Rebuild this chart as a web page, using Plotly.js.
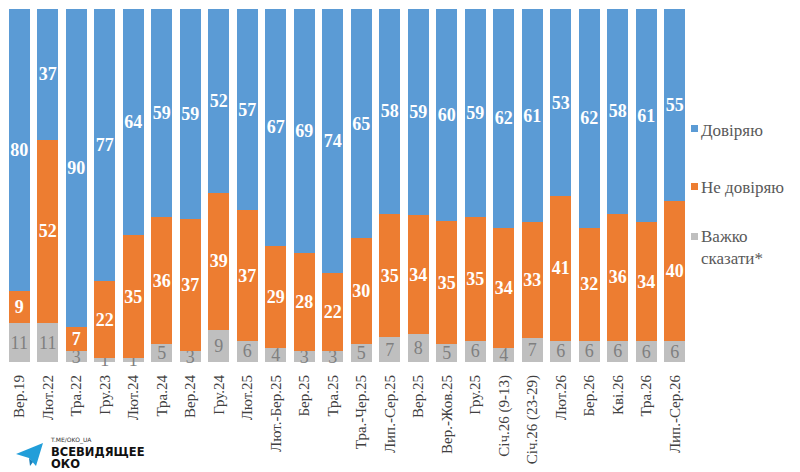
<!DOCTYPE html>
<html>
<head>
<meta charset="utf-8">
<script src="https://cdn.plot.ly/plotly-3.0.1.min.js"></script>
<style>html,body{margin:0;padding:0;background:#fff;}#chart{width:800px;height:472px;}</style>
</head>
<body>
<div id="chart"></div>
<script>
const categories = ["Вер.19","Лют.22","Тра.22","Гру.23","Лют.24","Тра.24","Вер.24","Гру.24","Лют.25","Лют.-Бер.25","Бер.25","Тра.25","Тра.-Чер.25","Лип.-Сер.25","Вер.25","Вер.-Жов.25","Гру.25","Січ.26 (9-13)","Січ.26 (23-29)","Лют.26","Бер.26","Кві.26","Тра.26","Лип.-Сер.26"];
const trust    = [80,37,90,77,64,59,59,52,57,67,69,74,65,58,59,60,59,62,61,53,62,58,61,55];
const distrust = [9,52,7,22,35,36,37,39,37,29,28,22,30,35,34,35,35,34,33,41,32,36,34,40];
const hard     = [11,11,3,1,1,5,3,9,6,4,3,3,5,7,8,5,6,4,7,6,6,6,6,6];
const seriesNames = ["Довіряю","Не довіряю","Важко<br>сказати*"];
const colors = {trust:"#5B9BD5", distrust:"#ED7D31", hard:"#BFBFBF"};

const serif = "Times New Roman";

function barTrace(name, vals, color, fontColor, bold){
  return {
    type:"bar", name:name, x:categories, y:vals, text:vals.map(String),
    texttemplate: bold ? "<b>%{text}</b>" : "%{text}",
    textposition:"inside", insidetextanchor:"middle", textangle:0,
    insidetextfont:{family:serif, size:18, color:fontColor},
    textfont:{family:serif, size:18, color:fontColor},
    marker:{color:color, line:{width:0}}, cliponaxis:false, hoverinfo:"skip", showlegend:false
  };
}

const data = [
  barTrace(seriesNames[2], hard, colors.hard, "#7F7F7F", false),
  barTrace(seriesNames[1], distrust, colors.distrust, "#FFFFFF", true),
  barTrace(seriesNames[0], trust, colors.trust, "#FFFFFF", true)
];

const plotTop = 9, plotBottom = 362, plotH = plotBottom - plotTop;
function py(pix){ return (plotBottom - pix) / plotH; }

const legendRows = [
  {text:seriesNames[0], color:colors.trust, yText:130, yMark:[125,132]},
  {text:seriesNames[1], color:colors.distrust, yText:187, yMark:[183,190]},
  {text:seriesNames[2], color:colors.hard, yText:247.5, yMark:[233,240]}
];

const annotations = legendRows.map(r => ({
  xref:"paper", yref:"paper", x:1, y:py(r.yText), xanchor:"left", yanchor:"middle",
  xshift:10, text:r.text, showarrow:false, align:"left",
  font:{family:serif, size:17, color:"#595959"}
}));
annotations.push(
  {xref:"paper", yref:"paper", x:(48-5)/684, y:py(440), xanchor:"left", yanchor:"middle", text:"T.ME/OKO_UA", showarrow:false, font:{family:"DejaVu Sans", size:6, color:"#333"}},
  {xref:"paper", yref:"paper", x:(49-5)/684, y:py(452), xanchor:"left", yanchor:"middle", text:"<b>ВСЕВИДЯЩЕЕ</b>", showarrow:false, font:{family:"DejaVu Sans", size:11.5, color:"#111"}},
  {xref:"paper", yref:"paper", x:(49-5)/684, y:py(464), xanchor:"left", yanchor:"middle", text:"<b>ОКО</b>", showarrow:false, font:{family:"DejaVu Sans", size:11.5, color:"#111"}}
);

const shapes = legendRows.map(r => ({
  type:"rect", xref:"paper", yref:"paper", xsizemode:"pixel", ysizemode:"pixel",
  xanchor:1, yanchor:0, x0:2, x1:9, y0:plotBottom - r.yMark[1], y1:plotBottom - r.yMark[0],
  fillcolor:r.color, line:{width:0}
}));
shapes.push(
  {type:"path", xref:"paper", yref:"paper", xsizemode:"pixel", ysizemode:"pixel", xanchor:0, yanchor:0,
   path:"M11,-92 L38,-81 L31,-104 L24,-96 Z", fillcolor:"#229ED9", line:{width:0}},
  {type:"path", xref:"paper", yref:"paper", xsizemode:"pixel", ysizemode:"pixel", xanchor:0, yanchor:0,
   path:"M24,-96 L25,-104 L28,-100 Z", fillcolor:"#1A7FB8", line:{width:0}}
);

const layout = {
  width:800, height:472,
  margin:{l:5, r:111, t:9, b:110, pad:0},
  paper_bgcolor:"#FFFFFF", plot_bgcolor:"#FFFFFF",
  barmode:"stack", barnorm:"percent", bargap:0.28,
  uniformtext:{mode:"show", minsize:18},
  showlegend:false,
  xaxis:{type:"category", tickangle:-90, tickfont:{family:serif, size:15, color:"#404040"},
         showgrid:false, showline:false, zeroline:false, ticks:"outside", ticklen:6, tickcolor:"rgba(0,0,0,0)",
         fixedrange:true},
  yaxis:{range:[0,100], visible:false, fixedrange:true},
  annotations:annotations, shapes:shapes,
  font:{family:serif}
};

Plotly.newPlot("chart", data, layout, {displayModeBar:false, staticPlot:true});
</script>
</body>
</html>
